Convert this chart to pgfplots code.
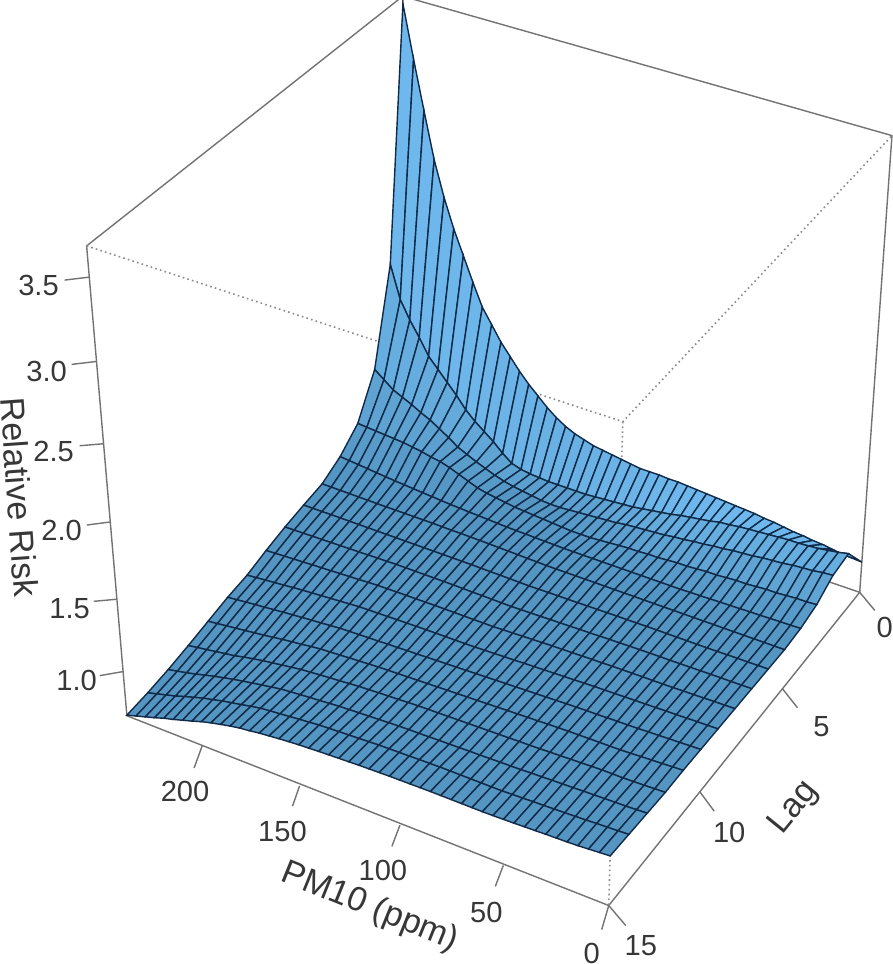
\documentclass[border=0pt]{standalone}
\usepackage{fontspec}
\setmainfont{Liberation Sans}
\usepackage{pgfplots}
\usepackage{pgfplotstable}
\pgfplotsset{compat=1.18}
\definecolor{boxcol}{RGB}{115,115,115}
\definecolor{dotcol}{RGB}{140,140,140}
\definecolor{txt}{RGB}{55,55,55}
\definecolor{netcol}{RGB}{16,42,72}
% projection of (PM10, lag, relative risk) on the page, in pixels of the reference
\newcommand\PU{(\thisrow{pm}/240)}
\newcommand\PS{(1-\thisrow{lag}/15)}
\newcommand\PW{((\thisrow{rr}-0.696)/2.98)}
\newcommand\PH{(1+0.0654*\PU+0.1189*\PS-0.095*\PW)}
\newcommand\PX{(608-471.6*\PU+352*\PS-(45.1+6*\PU+3.5*\PS-5*\PU*\PS)*\PW)/\PH}
\newcommand\PY{(902-142.4*\PU-241.8*\PS-521.9*\PW)/\PH}
\pgfplotstableread{
pm lag rr
240 0 3.63
235 0 3.30
230 0 2.99
225 0 2.69
220 0 2.46
215 0 2.27
210 0 2.11
205 0 1.95
200 0 1.80
195 0 1.70
190 0 1.60
185 0 1.52
180 0 1.44
175 0 1.37
170 0 1.31
165 0 1.25
160 0 1.20
155 0 1.16
150 0 1.13
145 0 1.11
140 0 1.09
135 0 1.08
130 0 1.07
125 0 1.06
120 0 1.05
115 0 1.04
110 0 1.04
105 0 1.04
100 0 1.035
95 0 1.035
90 0 1.03
85 0 1.025
80 0 1.02
75 0 1.015
70 0 1.01
65 0 1.005
60 0 1.0
55 0 .995
50 0 .985
45 0 .98
40 0 .97
35 0 .96
30 0 .955
25 0 .945
20 0 .94
15 0 .93
10 0 .92
5 0 .915
0 0 .91
240 1 2.04
235 1 1.82
230 1 1.70
225 1 1.60
220 1 1.49
215 1 1.42
210 1 1.35
205 1 1.28
200 1 1.20
195 1 1.14
190 1 1.09
185 1 1.04
180 1 .98
175 1 .93
170 1 .91
165 1 .90
160 1 .895
155 1 .89
150 1 .89
145 1 .89
140 1 .89
135 1 .89
130 1 .895
125 1 .90
120 1 .905
115 1 .91
110 1 .915
105 1 .925
100 1 .935
95 1 .945
90 1 .955
85 1 .97
80 1 .98
75 1 .99
70 1 1.0
65 1 1.015
60 1 1.02
55 1 1.03
50 1 1.035
45 1 1.04
40 1 1.045
35 1 1.05
30 1 1.055
25 1 1.055
20 1 1.06
15 1 1.065
10 1 1.075
5 1 1.085
0 1 1.10
240 2 1.43
235 2 1.38
230 2 1.33
225 2 1.30
220 2 1.27
215 2 1.235
210 2 1.205
205 2 1.165
200 2 1.125
195 2 1.08
190 2 1.05
185 2 1.02
180 2 .995
175 2 .97
170 2 .95
165 2 .935
160 2 .925
155 2 .915
150 2 .905
145 2 .90
140 2 .90
135 2 .905
130 2 .91
125 2 .915
120 2 .92
115 2 .925
110 2 .93
105 2 .94
100 2 .945
95 2 .95
90 2 .955
85 2 .96
80 2 .97
75 2 .975
70 2 .985
65 2 .99
60 2 1.0
55 2 1.005
50 2 1.015
45 2 1.02
40 2 1.025
35 2 1.035
30 2 1.04
25 2 1.045
20 2 1.055
15 2 1.06
10 2 1.065
5 2 1.075
0 2 1.08
240 3 1.17
235 3 1.165
230 3 1.16
225 3 1.155
220 3 1.15
215 3 1.145
210 3 1.135
205 3 1.125
200 3 1.11
195 3 1.10
190 3 1.08
185 3 1.055
180 3 1.03
175 3 1.005
170 3 .99
165 3 .98
160 3 .97
155 3 .96
150 3 .955
145 3 .95
140 3 .945
135 3 .94
130 3 .935
125 3 .93
120 3 .93
115 3 .93
110 3 .935
105 3 .94
100 3 .945
95 3 .95
90 3 .95
85 3 .955
80 3 .955
75 3 .96
70 3 .965
65 3 .965
60 3 .97
55 3 .975
50 3 .975
45 3 .98
40 3 .985
35 3 .985
30 3 .99
25 3 .995
20 3 .995
15 3 1.0
10 3 1.005
5 3 1.005
0 3 1.01
240 4 1.057
235 4 1.051
230 4 1.045
225 4 1.039
220 4 1.032
215 4 1.026
210 4 1.02
205 4 1.015
200 4 1.01
195 4 1.005
190 4 1.0
185 4 .995
180 4 .99
175 4 .987
170 4 .983
165 4 .98
160 4 .977
155 4 .973
150 4 .97
145 4 .968
140 4 .967
135 4 .965
130 4 .963
125 4 .962
120 4 .96
115 4 .96
110 4 .96
105 4 .96
100 4 .96
95 4 .96
90 4 .96
85 4 .96
80 4 .96
75 4 .96
70 4 .96
65 4 .96
60 4 .96
55 4 .962
50 4 .963
45 4 .965
40 4 .967
35 4 .968
30 4 .97
25 4 .972
20 4 .973
15 4 .975
10 4 .977
5 4 .978
0 4 .98
240 5 .988
235 5 .988
230 5 .987
225 5 .987
220 5 .986
215 5 .986
210 5 .985
205 5 .985
200 5 .985
195 5 .985
190 5 .985
185 5 .985
180 5 .985
175 5 .984
170 5 .983
165 5 .983
160 5 .982
155 5 .981
150 5 .98
145 5 .978
140 5 .977
135 5 .975
130 5 .973
125 5 .972
120 5 .97
115 5 .97
110 5 .97
105 5 .97
100 5 .97
95 5 .97
90 5 .97
85 5 .97
80 5 .97
75 5 .97
70 5 .97
65 5 .97
60 5 .97
55 5 .97
50 5 .97
45 5 .97
40 5 .97
35 5 .97
30 5 .97
25 5 .97
20 5 .97
15 5 .97
10 5 .97
5 5 .97
0 5 .97
240 6 .964
235 6 .964
230 6 .964
225 6 .965
220 6 .965
215 6 .965
210 6 .965
205 6 .965
200 6 .965
195 6 .965
190 6 .965
185 6 .965
180 6 .965
175 6 .965
170 6 .965
165 6 .965
160 6 .965
155 6 .965
150 6 .965
145 6 .964
140 6 .963
135 6 .963
130 6 .962
125 6 .961
120 6 .96
115 6 .961
110 6 .962
105 6 .963
100 6 .963
95 6 .964
90 6 .965
85 6 .966
80 6 .967
75 6 .968
70 6 .968
65 6 .969
60 6 .97
55 6 .97
50 6 .97
45 6 .97
40 6 .97
35 6 .97
30 6 .97
25 6 .971
20 6 .972
15 6 .973
10 6 .973
5 6 .974
0 6 .975
240 7 .936
235 7 .938
230 7 .939
225 7 .941
220 7 .942
215 7 .944
210 7 .945
205 7 .947
200 7 .948
195 7 .95
190 7 .952
185 7 .953
180 7 .955
175 7 .955
170 7 .955
165 7 .955
160 7 .955
155 7 .955
150 7 .955
145 7 .954
140 7 .953
135 7 .953
130 7 .952
125 7 .951
120 7 .95
115 7 .952
110 7 .953
105 7 .955
100 7 .957
95 7 .958
90 7 .96
85 7 .962
80 7 .963
75 7 .965
70 7 .967
65 7 .968
60 7 .97
55 7 .971
50 7 .972
45 7 .973
40 7 .973
35 7 .974
30 7 .975
25 7 .976
20 7 .977
15 7 .978
10 7 .978
5 7 .979
0 7 .98
240 8 .90
235 8 .903
230 8 .907
225 8 .91
220 8 .913
215 8 .917
210 8 .92
205 8 .923
200 8 .927
195 8 .93
190 8 .933
185 8 .937
180 8 .94
175 8 .941
170 8 .942
165 8 .943
160 8 .943
155 8 .944
150 8 .945
145 8 .945
140 8 .945
135 8 .945
130 8 .945
125 8 .945
120 8 .945
115 8 .948
110 8 .95
105 8 .953
100 8 .955
95 8 .958
90 8 .96
85 8 .962
80 8 .963
75 8 .965
70 8 .967
65 8 .968
60 8 .97
55 8 .971
50 8 .972
45 8 .973
40 8 .973
35 8 .974
30 8 .975
25 8 .977
20 8 .978
15 8 .98
10 8 .982
5 8 .983
0 8 .985
240 9 .857
235 9 .863
230 9 .87
225 9 .876
220 9 .882
215 9 .889
210 9 .895
205 9 .90
200 9 .905
195 9 .91
190 9 .915
185 9 .92
180 9 .925
175 9 .927
170 9 .928
165 9 .93
160 9 .932
155 9 .933
150 9 .935
145 9 .936
140 9 .937
135 9 .938
130 9 .938
125 9 .939
120 9 .94
115 9 .943
110 9 .945
105 9 .948
100 9 .95
95 9 .953
90 9 .955
85 9 .958
80 9 .96
75 9 .963
70 9 .965
65 9 .968
60 9 .97
55 9 .972
50 9 .973
45 9 .975
40 9 .977
35 9 .978
30 9 .98
25 9 .982
20 9 .983
15 9 .985
10 9 .987
5 9 .988
0 9 .99
240 10 .834
235 10 .841
230 10 .848
225 10 .855
220 10 .861
215 10 .868
210 10 .875
205 10 .881
200 10 .887
195 10 .893
190 10 .898
185 10 .904
180 10 .91
175 10 .913
170 10 .915
165 10 .918
160 10 .92
155 10 .923
150 10 .925
145 10 .928
140 10 .93
135 10 .933
130 10 .935
125 10 .938
120 10 .94
115 10 .943
110 10 .945
105 10 .948
100 10 .95
95 10 .953
90 10 .955
85 10 .958
80 10 .96
75 10 .963
70 10 .965
65 10 .968
60 10 .97
55 10 .972
50 10 .973
45 10 .975
40 10 .977
35 10 .978
30 10 .98
25 10 .983
20 10 .985
15 10 .988
10 10 .99
5 10 .993
0 10 .995
240 11 .80
235 11 .808
230 11 .817
225 11 .825
220 11 .833
215 11 .842
210 11 .85
205 11 .86
200 11 .87
195 11 .878
190 11 .886
185 11 .895
180 11 .903
175 11 .907
170 11 .911
165 11 .916
160 11 .92
155 11 .924
150 11 .928
145 11 .931
140 11 .933
135 11 .936
130 11 .938
125 11 .941
120 11 .943
115 11 .946
110 11 .948
105 11 .951
100 11 .953
95 11 .956
90 11 .958
85 11 .961
80 11 .963
75 11 .966
70 11 .968
65 11 .971
60 11 .973
55 11 .975
50 11 .976
45 11 .977
40 11 .978
35 11 .979
30 11 .98
25 11 .983
20 11 .987
15 11 .99
10 11 .993
5 11 .997
0 11 1.0
240 12 .766
235 12 .777
230 12 .787
225 12 .798
220 12 .809
215 12 .819
210 12 .835
205 12 .848
200 12 .86
195 12 .87
190 12 .88
185 12 .89
180 12 .90
175 12 .906
170 12 .912
165 12 .918
160 12 .923
155 12 .929
150 12 .935
145 12 .938
140 12 .942
135 12 .945
130 12 .948
125 12 .952
120 12 .955
115 12 .957
110 12 .958
105 12 .96
100 12 .962
95 12 .963
90 12 .965
85 12 .967
80 12 .968
75 12 .97
70 12 .972
65 12 .973
60 12 .975
55 12 .978
50 12 .98
45 12 .983
40 12 .985
35 12 .988
30 12 .99
25 12 .99
20 12 .99
15 12 .992
10 12 .994
5 12 .997
0 12 1.0
240 13 .736
235 13 .75
230 13 .764
225 13 .78
220 13 .798
215 13 .815
210 13 .83
205 13 .845
200 13 .858
195 13 .87
190 13 .882
185 13 .893
180 13 .905
175 13 .911
170 13 .917
165 13 .923
160 13 .928
155 13 .934
150 13 .94
145 13 .943
140 13 .947
135 13 .95
130 13 .953
125 13 .957
120 13 .96
115 13 .962
110 13 .963
105 13 .965
100 13 .967
95 13 .968
90 13 .97
85 13 .972
80 13 .973
75 13 .975
70 13 .977
65 13 .978
60 13 .98
55 13 .983
50 13 .985
45 13 .988
40 13 .99
35 13 .992
30 13 .995
25 13 .997
20 13 .999
15 13 1.001
10 13 1.003
5 13 1.006
0 13 1.01
240 14 .714
235 14 .732
230 14 .75
225 14 .768
220 14 .79
215 14 .81
210 14 .83
205 14 .845
200 14 .862
195 14 .875
190 14 .888
185 14 .902
180 14 .915
175 14 .922
170 14 .928
165 14 .935
160 14 .942
155 14 .948
150 14 .955
145 14 .958
140 14 .962
135 14 .965
130 14 .968
125 14 .972
120 14 .975
115 14 .977
110 14 .978
105 14 .98
100 14 .982
95 14 .983
90 14 .985
85 14 .985
80 14 .985
75 14 .985
70 14 .985
65 14 .985
60 14 .985
55 14 .988
50 14 .99
45 14 .993
40 14 .995
35 14 .998
30 14 1.0
25 14 1.003
20 14 1.006
15 14 1.01
10 14 1.013
5 14 1.016
0 14 1.02
240 15 .70
235 15 .72
230 15 .74
225 15 .76
220 15 .782
215 15 .80
210 15 .82
205 15 .84
200 15 .862
195 15 .88
190 15 .895
185 15 .91
180 15 .922
175 15 .93
170 15 .94
165 15 .947
160 15 .954
155 15 .96
150 15 .965
145 15 .969
140 15 .973
135 15 .976
130 15 .979
125 15 .982
120 15 .985
115 15 .987
110 15 .989
105 15 .991
100 15 .992
95 15 .993
90 15 .994
85 15 .995
80 15 .995
75 15 .995
70 15 .995
65 15 .995
60 15 .995
55 15 .996
50 15 .998
45 15 1.0
40 15 1.003
35 15 1.005
30 15 1.008
25 15 1.01
20 15 1.012
15 15 1.015
10 15 1.02
5 15 1.025
0 15 1.03
}\surfacedata
\pgfplotstableread{
pm lag rr
240 0 0.696
240 15 0.696
0 15 0.696
0 0 0.696
240 0 0.696
240 0 3.676
}\hiddenbase
\pgfplotstableread{
pm lag rr
240 15 0.696
240 15 3.676
240 0 3.676
0 0 3.676
0 0 0.696
}\frontbox
\pgfplotstableread{
pm lag rr
240 15 3.676
0 15 3.676
0 0 3.676
}\dottedtop
\pgfplotstableread{
pm lag rr
0 15 3.676
0 15 0.696
}\dottedfront
\begin{document}
\begin{tikzpicture}
\begin{axis}[
  scale only axis, width=448pt, height=482pt,
  xmin=0, xmax=896, ymin=0, ymax=964, y dir=reverse,
  hide axis, clip=true,
  colormap={surfblue}{rgb255(0)=(56,114,162); rgb255(0.22)=(84,149,194); rgb255(0.6)=(97,166,214); rgb255(1)=(114,188,242)},
  point meta min=0, point meta max=1,
]
% box behind the surface
\addplot[boxcol, line width=0.7pt, forget plot] table[x expr={\PX}, y expr={\PY}] {\hiddenbase};
\addplot[boxcol, line width=0.7pt, forget plot] table[x expr={\PX}, y expr={\PY}] {\frontbox};
\addplot[dotcol, line width=0.8pt, dash pattern=on 0.8pt off 1.6pt, forget plot] table[x expr={\PX}, y expr={\PY}] {\dottedtop};
\addplot[dotcol, line width=0.8pt, dash pattern=on 0.8pt off 1.6pt, forget plot] table[x expr={\PX}, y expr={\PY}] {\dottedfront};
% surface, far rows first
\addplot[surf, shader=faceted, faceted color=netcol, line width=0.7pt, mesh/rows=16, mesh/cols=49,
  point meta={min(1,max(0.22,1.05-0.2*\thisrow{lag}))-0.4*exp(-((\thisrow{pm}-150)/45)^2)*exp(-((\thisrow{lag}-2)/1.3)^2)}]
  table[x expr={\PX}, y expr={\PY}] {\surfacedata};
% tick marks
\addplot[boxcol, line width=0.7pt] coordinates {(203,743)(195,765)};
\addplot[boxcol, line width=0.7pt] coordinates {(300,783)(293,803)};
\addplot[boxcol, line width=0.7pt] coordinates {(400,822)(392,843)};
\addplot[boxcol, line width=0.7pt] coordinates {(503,862)(495,883)};
\addplot[boxcol, line width=0.7pt] coordinates {(608,902)(601,926)};
\addplot[boxcol, line width=0.7pt] coordinates {(608,902)(625,922)};
\addplot[boxcol, line width=0.7pt] coordinates {(699,789)(713,808)};
\addplot[boxcol, line width=0.7pt] coordinates {(781,686)(796,705)};
\addplot[boxcol, line width=0.7pt] coordinates {(858,590)(873,608)};
\addplot[boxcol, line width=0.7pt] coordinates {(124,669)(101,673)};
\addplot[boxcol, line width=0.7pt] coordinates {(117,597)(95,599)};
\addplot[boxcol, line width=0.7pt] coordinates {(111,520)(88,523)};
\addplot[boxcol, line width=0.7pt] coordinates {(105,442)(81,444)};
\addplot[boxcol, line width=0.7pt] coordinates {(98,360)(73,363)};
\addplot[boxcol, line width=0.7pt] coordinates {(91,276)(66,279)};
% labels
\begin{scope}[every node/.style={text=txt, font=\fontsize{14.5}{16}\selectfont, inner sep=0pt}]
\node at (axis cs:186,788) {200};
\node at (axis cs:283,828) {150};
\node at (axis cs:383,867) {100};
\node at (axis cs:486,909) {50};
\node at (axis cs:591,950) {0};
\node at (axis cs:640,942) {15};
\node at (axis cs:728,829) {10};
\node at (axis cs:820,724) {5};
\node at (axis cs:883,625) {0};
\node at (axis cs:78,678) {1.0};
\node at (axis cs:71,606) {1.5};
\node at (axis cs:63,528) {2.0};
\node at (axis cs:55,450) {2.5};
\node at (axis cs:48,370) {3.0};
\node at (axis cs:40,284) {3.5};
\node[font=\fontsize{17}{19}\selectfont, rotate=-22] at (axis cs:370,904) {PM10 (ppm)};
\node[font=\fontsize{17}{19}\selectfont, rotate=51] at (axis cs:793,805) {Lag};
\node[font=\fontsize{17}{19}\selectfont, rotate=-86] at (axis cs:21,495) {Relative Risk};
\end{scope}
\end{axis}
\end{tikzpicture}
\end{document}
